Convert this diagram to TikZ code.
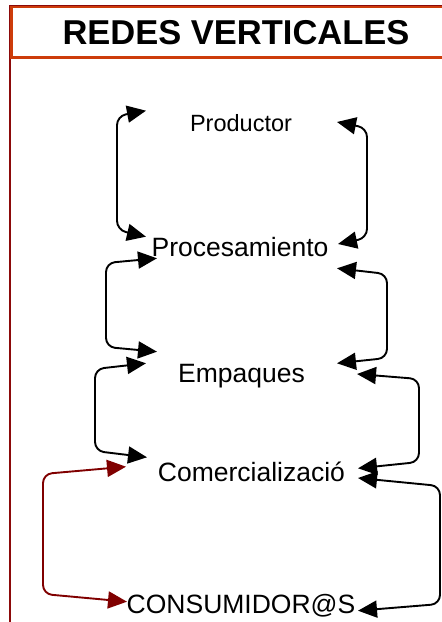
\documentclass[tikz,border=0pt]{standalone}
\usepackage{fontspec}
\setmainfont{Liberation Sans}
\usetikzlibrary{arrows.meta}
\definecolor{framered}{RGB}{140,10,10}
\definecolor{titleorange}{RGB}{205,60,10}
\definecolor{linkred}{RGB}{128,0,0}
\tikzset{
  conn/.style={line width=1.9pt, rounded corners=9pt,
    {Triangle[length=19pt,width=17pt]}-{Triangle[length=19pt,width=17pt]}},
  lbl/.style={anchor=base, inner sep=0pt, font=\fontsize{26.5}{30}\selectfont},
}
\begin{document}
\begin{tikzpicture}[x=1pt,y=1pt]
\useasboundingbox (0,0) rectangle (442,622);
% frame
\draw[framered, line width=2.2pt] (10,617) -- (10,0);
\draw[titleorange, line width=3pt] (11.5,615.5) rectangle (460,564);
\draw[framered, line width=0.8pt] (10,617) -- (460,617);
\node[anchor=base, inner sep=0pt, font=\fontsize{34.5}{40}\selectfont\bfseries] (title) at (236,577) {REDES VERTICALES};
% labels
\node[lbl, font=\fontsize{23.5}{28}\selectfont] (prod) at (241,490.3) {Productor};
\node[lbl] (proc) at (240,365.5) {Procesamiento};
\node[lbl] (emp) at (241.5,239) {Empaques};
\node[lbl] (com) at (251.5,140) {Comercializació};
\node[lbl] (cons) at (241,9) {CONSUMIDOR@S};
% arrow tips
\coordinate (a1) at (146,511.3); \coordinate (b1) at (146,385.3);
\coordinate (a2) at (337,500);   \coordinate (b2) at (338,378);
\coordinate (a3) at (157,363.7); \coordinate (b3) at (157,270.3);
\coordinate (a4) at (337,353.7); \coordinate (b4) at (337,258.7);
\coordinate (a5) at (146,258.7); \coordinate (b5) at (147,164.7);
\coordinate (a6) at (357,248);   \coordinate (b6) at (358,153.7);
\coordinate (a7) at (358,144);   \coordinate (b7) at (358,11.3);
\coordinate (a8) at (126,155.3); \coordinate (b8) at (127,20.3);
% connectors
\draw[conn] (a1) -- (117,506) -- (117,392) -- (b1);
\draw[conn] (a2) -- (367,494) -- (367,384) -- (b2);
\draw[conn] (a3) -- (106,359) -- (106,275) -- (b3);
\draw[conn] (a4) -- (387,348) -- (387,264) -- (b4);
\draw[conn] (a5) -- (95,253) -- (95,171) -- (b5);
\draw[conn] (a6) -- (419,243) -- (419,160) -- (b6);
\draw[conn] (a7) -- (440,136) -- (440,18) -- (b7);
\draw[conn, linkred] (a8) -- (43,148) -- (43,28) -- (b8);
\end{tikzpicture}
\end{document}
